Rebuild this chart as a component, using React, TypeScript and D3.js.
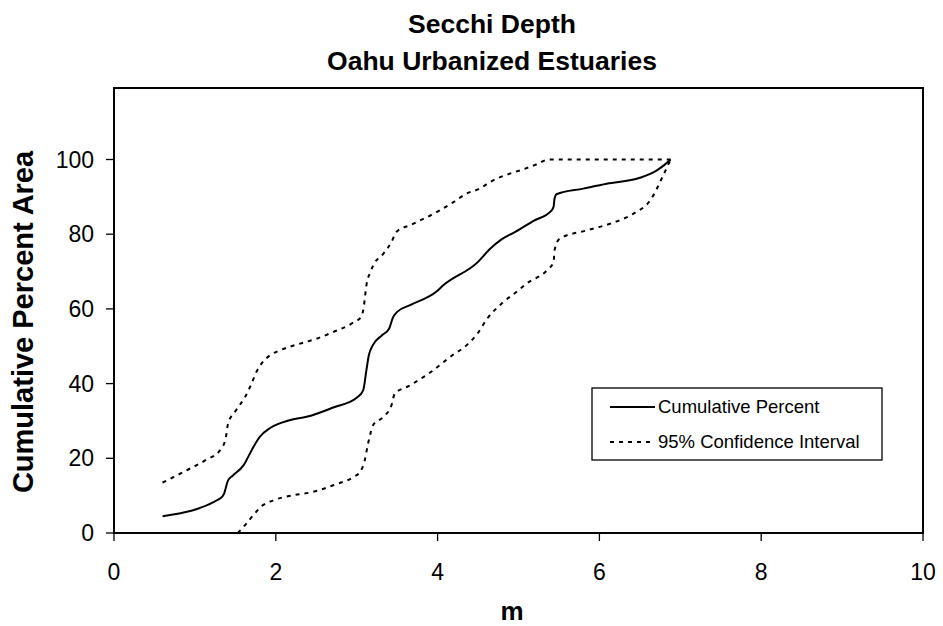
import React from 'react';
import * as d3 from 'd3';

// cumulative percent area vs secchi depth (m)
const cumX = [0.6, 1.31, 1.36, 1.41, 1.47, 1.6, 1.7, 1.8, 1.93, 2.17, 2.38, 2.71, 3.0, 3.08, 3.12, 3.15, 3.2, 3.31, 3.4, 3.45, 3.5, 3.66, 3.99, 4.07, 4.5, 4.64, 4.79, 4.96, 5.18, 5.41, 5.435, 5.445, 5.47, 5.8, 6.09, 6.5, 6.71, 6.8, 6.88];
const cumY = [4.5, 9.2, 10.5, 14.1, 15.4, 18.1, 22.1, 25.7, 28.1, 30.2, 31.1, 33.6, 36.2, 38.2, 43.6, 47.6, 50.3, 52.9, 54.7, 57.8, 59.2, 61.0, 64.7, 66.3, 72.6, 75.9, 78.6, 80.6, 83.5, 86.4, 87.5, 89.5, 90.7, 92.2, 93.5, 95.1, 97.1, 98.5, 100];

const upX = [0.6, 0.9, 1.14, 1.31, 1.38, 1.41, 1.51, 1.62, 1.7, 1.76, 1.84, 1.93, 2.05, 2.3, 2.5, 2.71, 2.94, 3.06, 3.09, 3.12, 3.17, 3.21, 3.33, 3.43, 3.49, 3.68, 4.03, 4.19, 4.36, 4.52, 4.65, 4.89, 5.02, 5.2, 5.38, 6.88];
const upY = [13.5, 16.8, 19.6, 22.1, 25.3, 29.3, 32.9, 36.4, 40.0, 43.1, 45.8, 47.6, 48.9, 50.7, 52.0, 53.8, 56.1, 58.0, 61.0, 66.3, 69.9, 71.9, 74.8, 77.9, 80.6, 82.6, 86.4, 88.5, 90.9, 92.2, 94.0, 96.2, 97.1, 98.5, 100, 100];

const loX = [1.53, 1.62, 1.72, 1.82, 1.97, 2.21, 2.46, 2.71, 2.96, 3.04, 3.1, 3.14, 3.17, 3.2, 3.33, 3.43, 3.47, 3.64, 3.93, 4.17, 4.36, 4.5, 4.61, 4.79, 5.0, 5.1, 5.35, 5.435, 5.445, 5.51, 5.84, 6.13, 6.42, 6.63, 6.79, 6.88];
const loY = [0, 2.1, 4.7, 7.1, 8.75, 10.1, 11.0, 12.8, 15.0, 16.3, 19.5, 23.9, 26.6, 28.8, 31.1, 34.2, 37.3, 39.3, 43.3, 47.4, 50.3, 53.6, 57.3, 61.4, 65.0, 66.8, 70.3, 72.6, 75.7, 78.8, 81.0, 82.8, 85.5, 89.1, 95.8, 100];

const xTicks = [0, 2, 4, 6, 8, 10];
const yTicks = [0, 20, 40, 60, 80, 100];

const titleLines = ['Secchi Depth', 'Oahu Urbanized Estuaries'];
const legendItems = [
  { label: 'Cumulative Percent', dash: 'none' },
  { label: '95% Confidence Interval', dash: '4,5' },
];

const W = 943;
const H = 626;
const left = 114, right = 923, top = 88, bottom = 533;

export default function App() {
  const x = d3.scaleLinear().domain([0, 10]).range([left, right]);
  const y = d3.scaleLinear().domain([0, 100]).range([bottom, 159.5]);

  // monotone keeps the flat 100% run of the upper bound flat
  const line = d3.line<[number, number]>()
    .curve(d3.curveMonotoneX)
    .x(d => x(d[0]))
    .y(d => y(d[1]));

  const zip = (xs: number[], ys: number[]) => xs.map((v, i) => [v, ys[i]] as [number, number]);

  const font = 'Liberation Sans, Arial, sans-serif';

  return (
    <svg width={W} height={H} style={{ position: 'absolute', left: 0, top: 0, background: '#fff' }} fontFamily={font}>
      <rect x={0} y={0} width={W} height={H} fill="#fff" />
      {titleLines.map((t, i) => (
        <text key={t} x={492} y={33 + i * 37} textAnchor="middle" fontSize={26.5} fontWeight="bold">{t}</text>
      ))}

      {/* plot box */}
      <rect x={left} y={top} width={right - left} height={bottom - top} fill="none" stroke="#000" strokeWidth={2} />

      {/* y ticks */}
      {yTicks.map(t => (
        <g key={t}>
          <line x1={left - 8} x2={left} y1={y(t)} y2={y(t)} stroke="#000" strokeWidth={1.3} />
          <text x={94} y={y(t) + 8} textAnchor="end" fontSize={23}>{t}</text>
        </g>
      ))}
      {/* x ticks */}
      {xTicks.map(t => (
        <g key={t}>
          <line x1={x(t)} x2={x(t)} y1={bottom} y2={bottom + 8} stroke="#000" strokeWidth={1.3} />
          <text x={x(t)} y={580} textAnchor="middle" fontSize={23}>{t}</text>
        </g>
      ))}

      <text x={512} y={620} textAnchor="middle" fontSize={26} fontWeight="bold">m</text>
      <text transform="translate(33,322) rotate(-90)" textAnchor="middle" fontSize={29} fontWeight="bold">Cumulative Percent Area</text>

      <path d={line(zip(upX, upY)) || ''} fill="none" stroke="#000" strokeWidth={2} strokeDasharray="4,5" />
      <path d={line(zip(loX, loY)) || ''} fill="none" stroke="#000" strokeWidth={2} strokeDasharray="4,5" />
      <path d={line(zip(cumX, cumY)) || ''} fill="none" stroke="#000" strokeWidth={2} />

      {/* legend */}
      <rect x={592} y={388} width={290} height={72} fill="#fff" stroke="#000" strokeWidth={1.3} />
      {legendItems.map((it, i) => (
        <g key={it.label}>
          <line x1={610} x2={655} y1={407 + i * 35} y2={407 + i * 35} stroke="#000" strokeWidth={2} strokeDasharray={it.dash} />
          <text x={658} y={413 + i * 35} fontSize={18.5}>{it.label}</text>
        </g>
      ))}
    </svg>
  );
}
